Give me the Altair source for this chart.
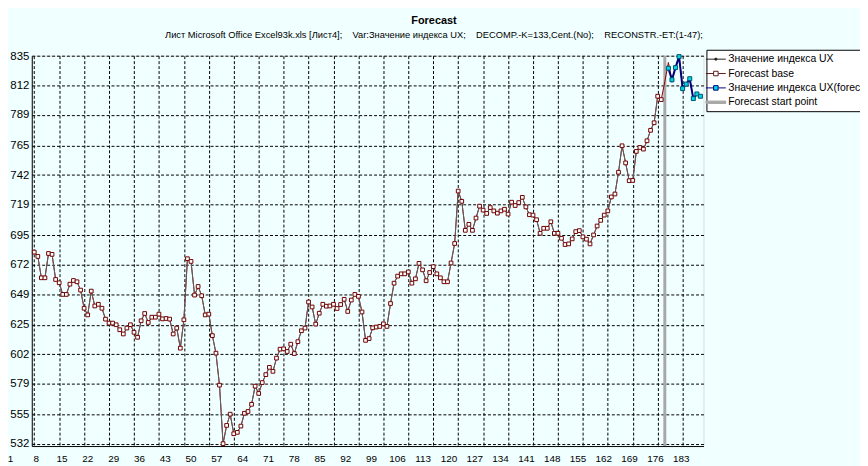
import altair as alt
import pandas as pd

FONT = "Liberation Sans"

# ---- data ----
base_values = [
    681.8, 678.4, 661.7, 661.7, 680.7, 680.0, 660.4, 657.8, 648.7, 648.7,
    656.7, 659.6, 658.6, 652.1, 637.9, 632.7, 651.3, 639.7, 641.0, 637.9,
    629.4, 626.3, 626.3, 625.0, 621.1, 617.8, 622.4, 625.0, 619.1, 615.2,
    628.1, 633.8, 626.8, 630.9, 630.9, 633.3, 629.6, 629.9, 629.4, 617.8,
    622.4, 606.7, 628.9, 676.6, 674.5, 648.2, 654.9, 647.7, 632.7, 633.3,
    616.5, 602.8, 577.8, 532.1, 546.3, 555.1, 539.8, 540.9, 545.8, 555.8,
    557.2, 562.8, 577.0, 571.3, 579.8, 586.0, 591.7, 588.6, 598.9, 605.9,
    606.2, 604.1, 609.8, 602.5, 611.8, 620.3, 622.4, 642.8, 638.9, 625.5,
    634.0, 641.0, 639.5, 639.7, 641.0, 637.7, 640.8, 644.9, 635.4, 644.3,
    648.7, 647.2, 635.0, 612.8, 614.2, 622.6, 623.2, 623.7, 625.7, 623.7,
    641.6, 657.5, 663.0, 664.8, 664.8, 666.3, 657.5, 660.9, 673.0, 667.9,
    659.4, 665.8, 670.4, 664.8, 661.7, 658.6, 658.6, 673.3, 688.5, 729.5,
    721.5, 698.8, 703.5, 698.8, 708.4, 717.7, 714.6, 712.0, 716.6, 714.0,
    712.2, 714.0, 715.3, 711.5, 720.8, 718.2, 720.5, 724.6, 717.1, 711.0,
    710.7, 707.1, 696.5, 700.4, 700.4, 705.5, 696.5, 696.5, 692.6, 687.7,
    688.2, 692.1, 697.8, 698.6, 693.7, 691.9, 688.2, 695.2, 702.2, 706.6,
    710.7, 714.0, 724.9, 727.2, 744.2, 764.9, 751.5, 737.6, 737.8, 760.5,
    763.6, 762.3, 768.8, 777.0, 782.9, 803.6, 801.0,
]
base_index = list(range(1, len(base_values) + 1))

actual_tail_index = [178, 179, 180, 181, 182, 183, 184, 185, 186, 187, 188]
actual_tail_values = [815.0, 830.0, 816.0, 826.0, 835.0, 810.0, 813.0, 817.0, 802.0, 805.0, 804.0]

forecast_index = [179, 180, 181, 182, 183, 184, 185, 186, 187, 188]
forecast_values = [825.5, 816.5, 826.0, 834.6, 809.6, 813.1, 817.3, 801.8, 805.4, 803.6]

forecast_start = [178]

x_tick_values = [1, 8, 15, 22, 29, 36, 43, 50, 57, 64, 71, 78, 85, 92, 99, 106,
                 113, 120, 127, 134, 141, 148, 155, 162, 169, 176, 183]
y_tick_labels = ["532", "555", "579", "602", "625", "649", "672", "695",
                 "719", "742", "765", "789", "812", "835"]
y_tick_values = [int(s) for s in y_tick_labels]

series_names = ["Значение индекса UX", "Forecast base",
                "Значение индекса UX(forecast)", "Forecast start point"]
legend_fills = ["#202020", "white", "#00d8e0", "#a8a8a8"]
legend_strokes = ["#202020", "#5a1a1a", "#000080", "#a8a8a8"]
legend_paths = [
    "M-1.67,0H1.67M-0.15,-0.15H0.15V0.15H-0.15Z",
    "M-1.67,0H-0.38M0.38,0H1.67M-0.38,-0.38H0.38V0.38H-0.38Z",
    "M-1.67,0H-0.38M0.38,0H1.67M-0.38,-0.38H0.38V0.38H-0.38Z",
    "M-1.67,-0.2H1.67V0.2H-1.67Z",
]

title_text = "Forecast"
subtitle_text = ("Лист Microsoft Office Excel93k.xls [Лист4];\u00a0\u00a0\u00a0 "
                 "Var:Значение индекса UX;\u00a0\u00a0\u00a0 DECOMP.-K=133,Cent.(No);"
                 "\u00a0\u00a0\u00a0 RECONSTR.-ET:(1-47);")

# ---- tables ----
df_base = pd.DataFrame({"i": base_index, "v": base_values})
df_actual = pd.DataFrame({"i": base_index + actual_tail_index,
                          "v": base_values + actual_tail_values})
df_fc = pd.DataFrame({"i": forecast_index, "v": forecast_values})
df_start = pd.DataFrame({"i": forecast_start})
df_legend = pd.DataFrame({"series": series_names})

x_scale = alt.Scale(domain=[0.305, 188.85], nice=False, zero=False)
y_scale = alt.Scale(domain=[530.2, 835.3], nice=False, zero=False)

x_axis = alt.Axis(
    values=x_tick_values, grid=True, gridColor="black", gridDash=[3, 2],
    gridWidth=1, gridOpacity=1, ticks=False, domain=True, domainColor="black",
    labelOffset=alt.ExprRef(expr="-24.5 + (datum.value - 1) * 0.1238"),
    labelFlush=False, labelOverlap=False, labelPadding=8, labelFontSize=10,
    labelFont=FONT, labelColor="black", title=None,
)
y_axis = alt.Axis(
    values=y_tick_values, grid=True, gridColor="black", gridDash=[3, 2],
    gridWidth=1, gridOpacity=1, ticks=False, domain=True, domainColor="black",
    labelPadding=3, labelFontSize=11.5, labelFont=FONT, labelColor="black",
    labelFlush=False, labelOverlap=False, title=None,
)

X = alt.X("i:Q", scale=x_scale, axis=x_axis)
Y = alt.Y("v:Q", scale=y_scale, axis=y_axis)

start_rule = alt.Chart(df_start).mark_rule(color="#a8a8a8", strokeWidth=3).encode(x=X)

actual_line = alt.Chart(df_actual).mark_line(color="#900000", strokeWidth=1).encode(x=X, y=Y)

base_line = alt.Chart(df_base).mark_line(color="#606060", strokeWidth=1).encode(x=X, y=Y)
base_pts = alt.Chart(df_base).mark_point(
    shape="square", filled=True, fill="white", stroke="#700000",
    strokeWidth=1, size=14, opacity=1,
).encode(x=X, y=Y)

fc_line = alt.Chart(df_fc).mark_line(color="#000080", strokeWidth=2).encode(x=X, y=Y)
fc_pts = alt.Chart(df_fc).mark_point(
    shape="square", filled=True, fill="#00d8e0", stroke="#005070",
    strokeWidth=1, size=16, opacity=1,
).encode(x=X, y=Y)

leg = alt.Legend(
    title=None, orient="none", legendX=681, legendY=-6, padding=3,
    strokeColor="black", fillColor="white", symbolSize=144,
    symbolStrokeWidth=1, labelFontSize=10.5, labelFont=FONT,
    labelColor="black", labelOffset=6, rowPadding=2.5, labelLimit=400,
)
legend_layer = alt.Chart(df_legend).mark_point(
    filled=True, opacity=1, strokeWidth=1,
).encode(
    fill=alt.Fill("series:N", scale=alt.Scale(domain=series_names, range=legend_fills), legend=leg),
    stroke=alt.Stroke("series:N", scale=alt.Scale(domain=series_names, range=legend_strokes), legend=leg),
    shape=alt.Shape("series:N", scale=alt.Scale(domain=series_names, range=legend_paths), legend=leg),
).transform_filter("false")

chart = alt.layer(
    start_rule, actual_line, base_line, base_pts, fc_line, fc_pts, legend_layer
).properties(
    width=678,
    height=394,
    padding={"left": 24, "top": 46, "right": 158, "bottom": 18},
    autosize=alt.AutoSizeParams(type="none"),
    background="#f0ffff",
    title=alt.TitleParams(
        text=title_text, subtitle=subtitle_text, font=FONT, subtitleFont=FONT,
        fontSize=11, fontWeight="bold", subtitleFontSize=9.4, color="black",
        subtitleColor="black", anchor="middle", frame="group", dx=67,
        offset=10, subtitlePadding=5,
    ),
).configure_view(
    fill="white", stroke="black", strokeWidth=1,
).configure(font=FONT)

chart.save("out.html", embed_options={"renderer": "svg", "actions": False})
